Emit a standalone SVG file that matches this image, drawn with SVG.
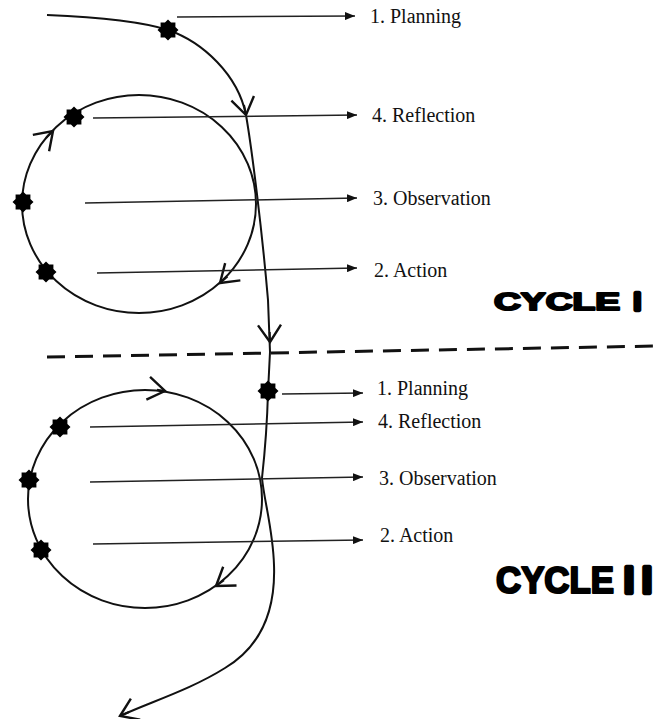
<svg xmlns="http://www.w3.org/2000/svg" xmlns:xlink="http://www.w3.org/1999/xlink" width="656" height="719" viewBox="0 0 656 719">
<style>
.line{fill:none;stroke:#111;stroke-width:2}
.lbl{fill:none;stroke:#222;stroke-width:1.5}
.txt{font-family:"Liberation Serif","Times New Roman",serif;font-size:20px;fill:#111}
.cyc{font-family:"Liberation Sans",Arial,sans-serif;font-weight:bold;fill:#000;stroke:#000;stroke-linejoin:round}
.stem{stroke-width:4.5}
</style>
<defs>
<polygon id="star" points="10.5,0 7.39,3.06 7.42,7.42 3.06,7.39 0,10.5 -3.06,7.39 -7.42,7.42 -7.39,3.06 -10.5,0 -7.39,-3.06 -7.42,-7.42 -3.06,-7.39 0,-10.5 3.06,-7.39 7.42,-7.42 7.39,-3.06" fill="#000"/>
<marker id="tri" markerUnits="userSpaceOnUse" markerWidth="10" markerHeight="8" refX="10" refY="4" orient="auto">
<path d="M0,0 L10,4 L0,8 z" fill="#111"/>
</marker>
<marker id="chev" markerUnits="userSpaceOnUse" markerWidth="40" markerHeight="40" refX="20" refY="20" orient="auto" overflow="visible">
<path d="M3,8.5 L20,20 L3,31.5" fill="none" stroke="#111" stroke-width="2.4" stroke-linejoin="miter"/>
</marker>
</defs>
<rect width="656" height="719" fill="#fff"/>

<g id="connectors">
<path id="main-path" class="line" d="M47,15 C95,17 140,21 168,30 C203,42 238,75 246,115 C252,150 262,230 268,300 L270,352 L268,392 C267,430 264,460 262,478 C264,500 273,530 274,565 C276,620 255,650 225,668 C190,690 150,702 120,716"/>
<ellipse id="cycle1-loop" class="line" cx="139" cy="204" rx="117" ry="109"/>
<ellipse id="cycle2-loop" class="line" cx="145" cy="499" rx="117" ry="109"/>
<path class="line" d="M244,105 L246,115" marker-end="url(#chev)"/>
<path class="line" d="M269.7,332 L270,342" marker-end="url(#chev)"/>
<path class="line" d="M129,712 L120,716" marker-end="url(#chev)"/>
<path class="line" d="M46,138 L53,131" marker-end="url(#chev)"/>
<path class="line" d="M227.5,276.4 L220,283" marker-end="url(#chev)"/>
<path class="line" d="M157,389.7 L165,391" marker-end="url(#chev)"/>
<path class="line" d="M224,580.3 L216,586" marker-end="url(#chev)"/>
<line x1="47" y1="357" x2="656" y2="346" stroke="#111" stroke-width="3" stroke-dasharray="18 10"/>
<line class="lbl" x1="177" y1="17" x2="355" y2="16" marker-end="url(#tri)"/>
<line class="lbl" x1="93" y1="118" x2="357" y2="115" marker-end="url(#tri)"/>
<line class="lbl" x1="85" y1="203" x2="357" y2="198" marker-end="url(#tri)"/>
<line class="lbl" x1="97" y1="273" x2="357" y2="268" marker-end="url(#tri)"/>
<line class="lbl" x1="282" y1="394" x2="363" y2="393" marker-end="url(#tri)"/>
<line class="lbl" x1="90" y1="427" x2="363" y2="422" marker-end="url(#tri)"/>
<line class="lbl" x1="90" y1="482" x2="363" y2="477" marker-end="url(#tri)"/>
<line class="lbl" x1="93" y1="544" x2="363" y2="540" marker-end="url(#tri)"/>
</g>

<g id="c1-planning"><use href="#star" x="168" y="30"/><text class="txt" x="370" y="23">1. Planning</text></g>
<g id="c1-reflection"><use href="#star" x="74" y="117"/><text class="txt" x="372" y="122">4. Reflection</text></g>
<g id="c1-observation"><use href="#star" x="23" y="202"/><text class="txt" x="373" y="205">3. Observation</text></g>
<g id="c1-action"><use href="#star" x="46" y="272"/><text class="txt" x="374" y="277">2. Action</text></g>
<g id="cycle1-label"><text class="cyc" y="310" font-size="24" stroke-width="2"><tspan x="494" textLength="126" lengthAdjust="spacingAndGlyphs">CYCLE</tspan> <tspan class="stem" x="634">I</tspan></text></g>

<g id="c2-planning"><use href="#star" x="268" y="391"/><text class="txt" x="377" y="395">1. Planning</text></g>
<g id="c2-reflection"><use href="#star" x="60" y="427"/><text class="txt" x="378" y="428">4. Reflection</text></g>
<g id="c2-observation"><use href="#star" x="29" y="480"/><text class="txt" x="379" y="485">3. Observation</text></g>
<g id="c2-action"><use href="#star" x="41" y="550"/><text class="txt" x="380" y="542">2. Action</text></g>
<g id="cycle2-label"><text class="cyc" y="593" font-size="36" stroke-width="2.2"><tspan x="496" textLength="118" lengthAdjust="spacingAndGlyphs">CYCLE</tspan> <tspan class="stem" x="624">I</tspan><tspan class="stem" x="642">I</tspan></text></g>
</svg>
